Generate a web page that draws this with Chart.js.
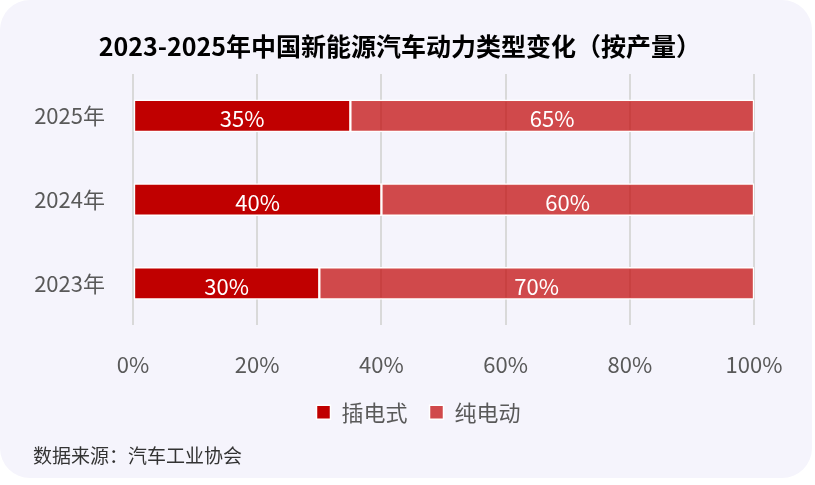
<!DOCTYPE html>
<html>
<head>
<meta charset="utf-8">
<script src="https://cdn.jsdelivr.net/npm/chart.js@4"></script>
<style>
    body { margin: 0; background: #ffffff; }
    .card {
        position: absolute; left: 0; top: 0;
        width: 812px; height: 478px;
        background: #f5f4fc;
        border-radius: 30px;
        overflow: hidden;
    }
    .title {
        position: absolute; left: 0; top: 28px; width: 800px;
        text-align: center;
        font: bold 25px 'Noto Sans CJK SC', sans-serif;
        line-height: 34px;
        color: #000000;
    }
    canvas { position: absolute; left: 0; top: 0; }
</style>
</head>
<body>
<div class="card">
    <canvas id="powerChart" width="812" height="478"></canvas>
    <div class="title">2023-2025年中国新能源汽车动力类型变化（按产量）</div>
</div>
<script>
// Data
const years = ['2025年', '2024年', '2023年'];
const plugInShare = [35, 40, 30];
const electricShare = [65, 60, 70];
const tickLabels = ['0%', '20%', '40%', '60%', '80%', '100%'];

const FONT = "'Noto Sans CJK SC', 'Noto Sans', sans-serif";

// white % labels inside each bar segment
const barLabels = {
    id: 'barLabels',
    afterDatasetsDraw(chart) {
        const ctx = chart.ctx;
        ctx.save();
        ctx.font = '22px ' + FONT;
        ctx.fillStyle = '#ffffff';
        ctx.textAlign = 'center';
        ctx.textBaseline = 'middle';
        chart.data.datasets.forEach((ds, i) => {
            chart.getDatasetMeta(i).data.forEach((bar, j) => {
                const p = bar.getProps(['x', 'y', 'base'], true);
                ctx.fillText(ds.data[j] + '%', (p.x + p.base) / 2, p.y + 3);
            });
        });
        ctx.restore();
    }
};

// legend sits a bit right of centre in the original
const shiftLegend = {
    id: 'shiftLegend',
    afterLayout(chart) {
        chart.legend.left += 25;
        chart.legend.right += 25;
    }
};

new Chart(document.getElementById('powerChart'), {
    type: 'bar',
    data: {
        labels: years,
        datasets: [{
            label: '插电式',
            data: plugInShare,
            backgroundColor: '#c00000',
            borderColor: '#ffffff',
            borderWidth: 1.5,
            borderSkipped: false
        }, {
            label: '纯电动',
            data: electricShare,
            backgroundColor: 'rgba(192, 0, 0, 0.7)',
            borderColor: '#ffffff',
            borderWidth: 1.5,
            borderSkipped: false
        }]
    },
    options: {
        indexAxis: 'y',
        responsive: false,
        animation: false,
        barThickness: 32,
        layout: {
            padding: { left: 33, right: 58, top: 74, bottom: 6 }
        },
        plugins: {
            subtitle: {
                display: true,
                position: 'bottom',
                align: 'start',
                text: '数据来源：汽车工业协会',
                color: '#333333',
                font: { size: 19, family: FONT },
                padding: { top: 11, bottom: 5 }
            },
            legend: {
                position: 'bottom',
                labels: {
                    boxWidth: 14,
                    boxHeight: 14,
                    color: '#595959',
                    font: { size: 22, family: FONT },
                    padding: 22
                }
            },
            tooltip: { enabled: false }
        },
        scales: {
            x: {
                stacked: true,
                min: 0,
                max: 100,
                afterFit: function(scale) {
                    scale.height = 54;
                },
                ticks: {
                    stepSize: 20,
                    color: '#595959',
                    padding: 26,
                    font: { size: 22, family: FONT },
                    callback: function(value, index) {
                        return tickLabels[index];
                    }
                },
                grid: {
                    color: '#d9d9d9',
                    lineWidth: 2,
                    drawTicks: false
                },
                border: { display: false }
            },
            y: {
                stacked: true,
                afterFit: function(scale) {
                    scale.width = 100;
                },
                ticks: {
                    color: '#595959',
                    padding: 28,
                    font: { size: 22, family: FONT }
                },
                grid: { display: false, drawTicks: false },
                border: { display: false }
            }
        }
    },
    plugins: [barLabels, shiftLegend]
});
</script>
</body>
</html>
